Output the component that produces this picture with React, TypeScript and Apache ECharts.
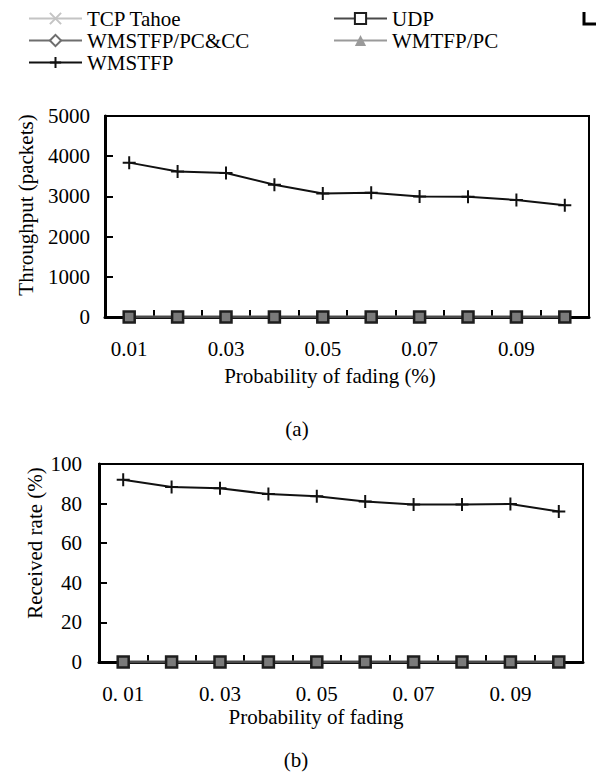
import React, { useEffect, useRef } from "react";
import * as echarts from "echarts";

const FONT = "Liberation Serif";

const categories = ["0.01", "0.02", "0.03", "0.04", "0.05", "0.06", "0.07", "0.08", "0.09", "0.10"];
const bottomTickLabels = ["0. 01", "0. 02", "0. 03", "0. 04", "0. 05", "0. 06", "0. 07", "0. 08", "0. 09", "0. 10"];

// (a) Throughput (packets)
const throughputTCP = [0, 0, 0, 0, 0, 0, 0, 0, 0, 0];
const throughputUDP = [0, 0, 0, 0, 0, 0, 0, 0, 0, 0];
const throughputPCCC = [0, 0, 0, 0, 0, 0, 0, 0, 0, 0];
const throughputPC = [0, 0, 0, 0, 0, 0, 0, 0, 0, 0];
const throughputWMSTFP = [3840, 3620, 3580, 3290, 3070, 3090, 3000, 2990, 2910, 2780];

// (b) Received rate (%)
const receivedTCP = [0, 0, 0, 0, 0, 0, 0, 0, 0, 0];
const receivedUDP = [0, 0, 0, 0, 0, 0, 0, 0, 0, 0];
const receivedPCCC = [0, 0, 0, 0, 0, 0, 0, 0, 0, 0];
const receivedPC = [0, 0, 0, 0, 0, 0, 0, 0, 0, 0];
const receivedWMSTFP = [92, 88.4, 87.7, 84.8, 83.7, 81.1, 79.6, 79.6, 79.8, 76];

const seriesNames = ["TCP Tahoe", "UDP", "WMSTFP/PC&CC", "WMTFP/PC", "WMSTFP"];

const PLUS = "path://M5,0 L5,10 M0,5 L10,5";
const CROSS = "path://M0,0 L10,10 M10,0 L0,10";

function buildSeries(idx: number, data: number[][]) {
  const [tcp, udp, pccc, pc, wm] = data;
  return [
    {
      name: seriesNames[0], type: "line", xAxisIndex: idx, yAxisIndex: idx, data: tcp,
      symbol: CROSS, symbolSize: 10, z: 2,
      lineStyle: { color: "#c4c4c4", width: 2 },
      itemStyle: { color: "#c4c4c4", borderColor: "#c4c4c4", borderWidth: 2 },
    },
    {
      name: seriesNames[2], type: "line", xAxisIndex: idx, yAxisIndex: idx, data: pccc,
      symbol: "diamond", symbolSize: 10, z: 2,
      lineStyle: { color: "#6e6e6e", width: 2.5 },
      itemStyle: { color: "#8a8a8a", borderColor: "#6e6e6e", borderWidth: 1.5 },
    },
    {
      name: seriesNames[3], type: "line", xAxisIndex: idx, yAxisIndex: idx, data: pc,
      symbol: "triangle", symbolSize: 9, z: 2,
      lineStyle: { color: "#9a9a9a", width: 2.5 },
      itemStyle: { color: "#9a9a9a" },
    },
    {
      name: seriesNames[1], type: "line", xAxisIndex: idx, yAxisIndex: idx, data: udp,
      symbol: "rect", symbolSize: 11, z: 3,
      lineStyle: { color: "#4a4a4a", width: 2.5 },
      itemStyle: { color: "#7a7a7a", borderColor: "#1e1e1e", borderWidth: 2.5 },
    },
    {
      name: seriesNames[4], type: "line", xAxisIndex: idx, yAxisIndex: idx, data: wm,
      symbol: PLUS, symbolSize: 13, z: 4,
      lineStyle: { color: "#111", width: 2 },
      itemStyle: { color: "#111", borderColor: "#111", borderWidth: 2 },
    },
  ];
}

export default function App() {
  const ref = useRef<HTMLDivElement>(null);

  useEffect(() => {
    if (!ref.current) return;
    const chart = echarts.init(ref.current, undefined, { renderer: "svg" });

    const textStyle = { fontFamily: FONT, fontSize: 21, color: "#000" };
    const gfont = `21px ${FONT}`;

    const legendCommon = {
      orient: "vertical",
      itemWidth: 53,
      itemHeight: 14,
      itemGap: 1,
      textStyle: { ...textStyle },
      selectedMode: false,
    };

    const xAxisCommon = (labels: string[], gridIndex: number) => ({
      type: "category",
      gridIndex,
      data: categories,
      boundaryGap: true,
      axisLine: { lineStyle: { color: "#000", width: 3 } },
      axisTick: { show: true, inside: true, length: 7, interval: 0, alignWithLabel: false, lineStyle: { color: "#000", width: 2 } },
      axisLabel: {
        interval: 1,
        margin: 21,
        ...textStyle,
        formatter: (_v: string, i: number) => labels[i],
      },
      splitLine: { show: false },
    });

    const option = {
      animation: false,
      backgroundColor: "#fff",
      textStyle: { fontFamily: FONT },
      legend: [
        {
          ...legendCommon,
          left: 23,
          top: 3,
          data: [
            { name: "TCP Tahoe" },
            { name: "WMSTFP/PC&CC", itemStyle: { color: "#fff" } },
            { name: "WMSTFP" },
          ],
        },
        {
          ...legendCommon,
          left: 328,
          top: 3,
          data: [
            { name: "UDP", itemStyle: { color: "#fff" } },
            { name: "WMTFP/PC" },
          ],
        },
      ],
      grid: [
        { left: 105, top: 116, width: 484, height: 201, show: true, borderColor: "#000", borderWidth: 2, backgroundColor: "transparent" },
        { left: 99, top: 464, width: 484, height: 198, show: true, borderColor: "#000", borderWidth: 2, backgroundColor: "transparent" },
      ],
      xAxis: [xAxisCommon(categories, 0), xAxisCommon(bottomTickLabels, 1)],
      yAxis: [
        {
          type: "value", gridIndex: 0, min: 0, max: 5000, interval: 1000,
          axisLine: { show: true, lineStyle: { color: "#000", width: 3 } },
          axisTick: { show: true, inside: true, length: 8, lineStyle: { color: "#000", width: 2 } },
          axisLabel: { margin: 15, ...textStyle, formatter: (v: number) => String(v) },
          splitLine: { show: false },
        },
        {
          type: "value", gridIndex: 1, min: 0, max: 100, interval: 20,
          axisLine: { show: true, lineStyle: { color: "#000", width: 3 } },
          axisTick: { show: true, inside: true, length: 8, lineStyle: { color: "#000", width: 2 } },
          axisLabel: { margin: 17, ...textStyle, formatter: (v: number) => String(v) },
          splitLine: { show: false },
        },
      ],
      graphic: [
        { type: "text", x: 26, y: 205, rotation: Math.PI / 2, style: { text: "Throughput (packets)", font: gfont, fill: "#000", textAlign: "center", textVerticalAlign: "middle" } },
        { type: "text", x: 330, y: 376, style: { text: "Probability of fading (%)", font: gfont, fill: "#000", textAlign: "center", textVerticalAlign: "middle" } },
        { type: "text", x: 297, y: 429, style: { text: "(a)", font: gfont, fill: "#000", textAlign: "center", textVerticalAlign: "middle" } },
        { type: "text", x: 35, y: 543, rotation: Math.PI / 2, style: { text: "Received rate (%)", font: gfont, fill: "#000", textAlign: "center", textVerticalAlign: "middle" } },
        { type: "text", x: 316, y: 717, style: { text: "Probability of fading", font: gfont, fill: "#000", textAlign: "center", textVerticalAlign: "middle" } },
        { type: "text", x: 296, y: 760, style: { text: "(b)", font: gfont, fill: "#000", textAlign: "center", textVerticalAlign: "middle" } },
        { type: "polyline", shape: { points: [[584, 12], [584, 24], [596, 24]] }, style: { stroke: "#000", lineWidth: 3, fill: "none" } },
      ],
      series: [
        ...buildSeries(0, [throughputTCP, throughputUDP, throughputPCCC, throughputPC, throughputWMSTFP]),
        ...buildSeries(1, [receivedTCP, receivedUDP, receivedPCCC, receivedPC, receivedWMSTFP]),
      ],
    };

    chart.setOption(option as any);
    return () => chart.dispose();
  }, []);

  return <div ref={ref} style={{ position: "absolute", left: 0, top: 0, width: 603, height: 774 }} />;
}
